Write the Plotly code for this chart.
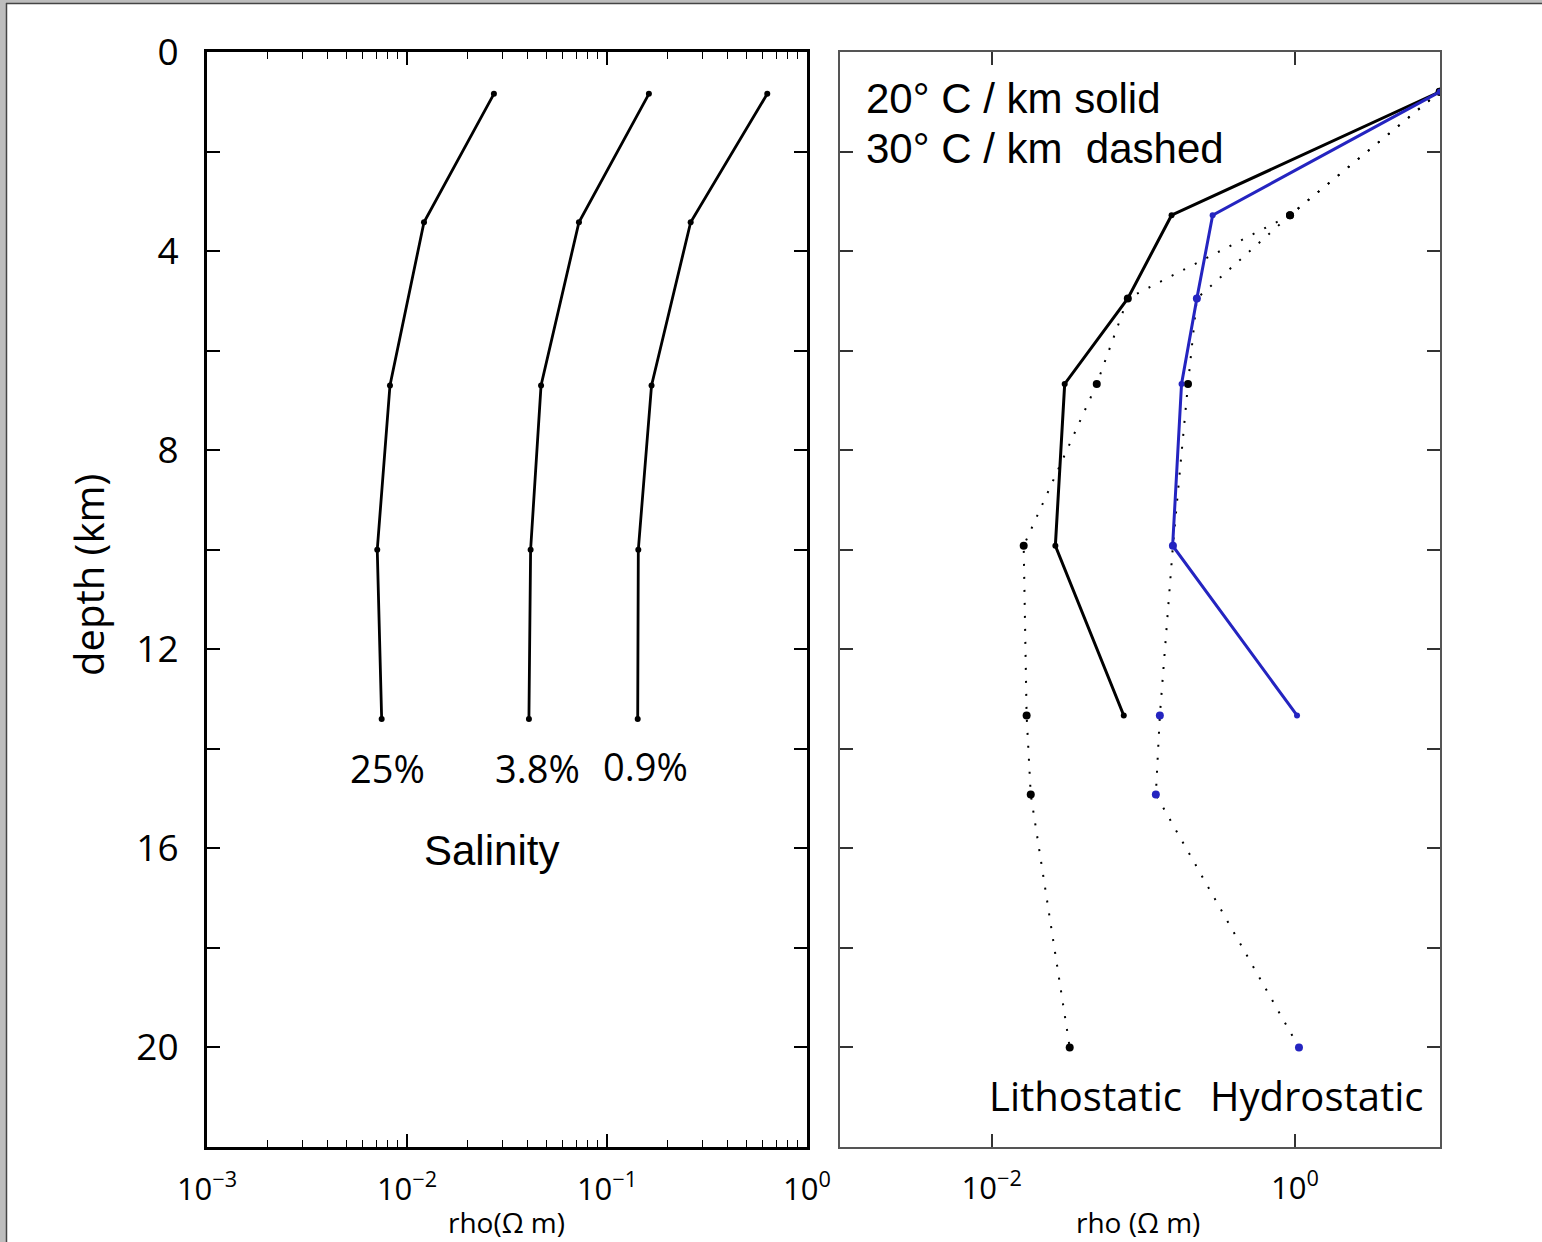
import plotly.graph_objects as go

# ---- Left panel: resistivity vs depth for three salinities ----
sal_depth = [0.84, 3.42, 6.7, 10.0, 13.4]
rho_sal_25 = [0.0272, 0.01216, 0.00822, 0.0071, 0.00747]
rho_sal_38 = [0.162, 0.0724, 0.0468, 0.0415, 0.0407]
rho_sal_09 = [0.633, 0.262, 0.167, 0.1434, 0.1424]
sal_labels = ["25%", "3.8%", "0.9%"]

# ---- Right panel: lithostatic / hydrostatic, 20 and 30 deg C/km ----
depth_20 = [0.8, 3.28, 4.95, 6.67, 9.92, 13.33]
rho_litho_20 = [9.0, 0.1535, 0.079, 0.0303, 0.0263, 0.0743]
rho_hydro_20 = [9.0, 0.2864, 0.2254, 0.1786, 0.156, 1.031]
depth_30 = [0.8, 3.28, 4.95, 6.67, 9.92, 13.33, 14.92, 20.0]
rho_litho_30 = [9.0, 0.927, 0.079, 0.0493, 0.01626, 0.017, 0.0181, 0.0327]
rho_hydro_30 = [9.0, 0.927, 0.2254, 0.197, 0.1567, 0.1285, 0.1209, 1.062]
hydro_30_marker_colors = ["black", "black", "#2424c0", "black", "#2424c0",
                          "#2424c0", "#2424c0", "#2424c0"]

depth_major = [0, 4, 8, 12, 16, 20]
depth_minor = [2, 6, 10, 14, 18, 22]

W, H = 1542, 1242
BLUE = "#2424c0"
HUMANIST = "Open Sans, Lato, sans-serif"
ARIAL = "Liberation Sans, Arial, sans-serif"


def px_x(p):
    return p / W


def px_y(p):
    return 1 - p / H


fig = go.Figure()

for rho in (rho_sal_25, rho_sal_38, rho_sal_09):
    fig.add_trace(go.Scatter(
        x=rho, y=sal_depth, mode="lines+markers",
        line=dict(color="black", width=2.8),
        marker=dict(color="black", size=6),
        xaxis="x", yaxis="y", showlegend=False, cliponaxis=False))

fig.add_trace(go.Scatter(
    x=rho_litho_30, y=depth_30, mode="lines+markers",
    line=dict(color="black", width=2, dash="2px,11px"),
    marker=dict(color="black", size=8),
    xaxis="x2", yaxis="y2", showlegend=False))
fig.add_trace(go.Scatter(
    x=rho_hydro_30, y=depth_30, mode="lines+markers",
    line=dict(color="black", width=2, dash="2px,11px"),
    marker=dict(color=hydro_30_marker_colors, size=8),
    xaxis="x2", yaxis="y2", showlegend=False))
fig.add_trace(go.Scatter(
    x=rho_litho_20, y=depth_20, mode="lines+markers",
    line=dict(color="black", width=3),
    marker=dict(color="black", size=6),
    xaxis="x2", yaxis="y2", showlegend=False))
fig.add_trace(go.Scatter(
    x=rho_hydro_20, y=depth_20, mode="lines+markers",
    line=dict(color=BLUE, width=3),
    marker=dict(color=BLUE, size=6),
    xaxis="x2", yaxis="y2", showlegend=False))

y_dom = [px_y(1147), px_y(52)]

left_minor = [m * 10 ** e for e in (-3, -2, -1) for m in range(2, 10)]

common = dict(showgrid=False, zeroline=False, automargin=False)

fig.update_layout(
    template="none",
    width=W, height=H,
    margin=dict(l=0, r=0, t=0, b=0, pad=0),
    paper_bgcolor="white", plot_bgcolor="white",
    xaxis=dict(
        type="log", domain=[px_x(207), px_x(807)], range=[-3, 0],
        tickmode="array", tickvals=[1e-3, 1e-2, 1e-1, 1],
        ticktext=["10<sup>−3</sup>", "10<sup>−2</sup>", "10<sup>−1</sup>", "10<sup>0</sup>"],
        ticks="inside", ticklen=13, tickwidth=1.5, tickcolor="black",
        minor=dict(tickmode="array", tickvals=left_minor, ticks="inside",
                   ticklen=7, tickwidth=1.2, tickcolor="black"),
        showline=True, linecolor="black", linewidth=3, mirror="ticks",
        ticklabelstandoff=13,
        tickfont=dict(family=HUMANIST, size=31, color="black"),
        anchor="y", **common),
    yaxis=dict(
        domain=y_dom, range=[22, 0], autorange=False,
        tickmode="array", tickvals=depth_major,
        ticks="inside", ticklen=13, tickwidth=1.5, tickcolor="black",
        minor=dict(tickmode="array", tickvals=depth_minor, ticks="inside",
                   ticklen=13, tickwidth=1.5, tickcolor="black"),
        showline=True, linecolor="black", linewidth=3, mirror="ticks",
        ticklabelstandoff=18,
        tickfont=dict(family=HUMANIST, size=37, color="black"),
        anchor="x", **common),
    xaxis2=dict(
        type="log", domain=[px_x(840), px_x(1440)], range=[-3, 0.956],
        tickmode="array", tickvals=[1e-2, 1],
        ticktext=["10<sup>−2</sup>", "10<sup>0</sup>"],
        ticks="inside", ticklen=13, tickwidth=1.5, tickcolor="#333",
        showline=True, linecolor="#555", linewidth=1.6, mirror="ticks",
        ticklabelstandoff=13,
        tickfont=dict(family=HUMANIST, size=31, color="black"),
        anchor="y2", **common),
    yaxis2=dict(
        domain=y_dom, range=[22, 0], autorange=False,
        tickmode="array", tickvals=depth_major, showticklabels=False,
        ticks="inside", ticklen=13, tickwidth=1.5, tickcolor="#333",
        minor=dict(tickmode="array", tickvals=depth_minor, ticks="inside",
                   ticklen=13, tickwidth=1.5, tickcolor="#333"),
        showline=True, linecolor="#555", linewidth=1.6, mirror="ticks",
        anchor="x2", **common),
)

annotations = [
    # salinity labels
    dict(text=sal_labels[0], x=px_x(387), y=px_y(768), font=dict(family=HUMANIST, size=38)),
    dict(text=sal_labels[1], x=px_x(537), y=px_y(768), font=dict(family=HUMANIST, size=38)),
    dict(text=sal_labels[2], x=px_x(645), y=px_y(766), font=dict(family=HUMANIST, size=38)),
    dict(text="Salinity", x=px_x(492), y=px_y(850), font=dict(family=ARIAL, size=42)),
    # gradient key
    dict(text="20° C / km solid", x=px_x(864), y=px_y(98), xanchor="left",
         font=dict(family=ARIAL, size=42)),
    dict(text="30° C / km \u00a0dashed", x=px_x(864), y=px_y(149), xanchor="left",
         font=dict(family=ARIAL, size=42)),
    # pressure regime labels
    dict(text="Lithostatic", x=px_x(1085), y=px_y(1095), font=dict(family=HUMANIST, size=40)),
    dict(text="Hydrostatic", x=px_x(1316), y=px_y(1095), font=dict(family=HUMANIST, size=40)),
    # axis titles
    dict(text="depth (km)", x=px_x(88), y=px_y(575), textangle=-90,
         font=dict(family=HUMANIST, size=40)),
    dict(text="rho(Ω m)", x=px_x(506), y=px_y(1222), font=dict(family=HUMANIST, size=28)),
    dict(text="rho (Ω m)", x=px_x(1138), y=px_y(1222), font=dict(family=HUMANIST, size=28)),
]
for a in annotations:
    a.update(xref="paper", yref="paper", showarrow=False,
             xanchor=a.get("xanchor", "center"), yanchor="middle")
    a["font"]["color"] = "black"
fig.update_layout(annotations=annotations)

# outer frame along the top and left edges
fig.update_layout(shapes=[
    dict(type="rect", xref="paper", yref="paper", x0=0, x1=px_x(6), y0=0, y1=1,
         fillcolor="#bdbdbd", line=dict(width=0), layer="above"),
    dict(type="rect", xref="paper", yref="paper", x0=0, x1=1, y0=px_y(3), y1=1,
         fillcolor="#bdbdbd", line=dict(width=0), layer="above"),
    dict(type="line", xref="paper", yref="paper", x0=px_x(6.5), x1=px_x(6.5),
         y0=0, y1=px_y(3), line=dict(color="#444", width=1.5), layer="above"),
    dict(type="line", xref="paper", yref="paper", x0=px_x(6), x1=1,
         y0=px_y(3.5), y1=px_y(3.5), line=dict(color="#444", width=1.5), layer="above"),
])

fig.write_html("out.html")
